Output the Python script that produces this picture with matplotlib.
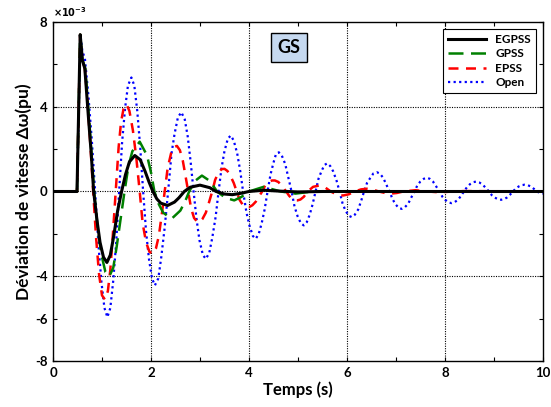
import matplotlib
matplotlib.use("Agg")
import matplotlib.pyplot as plt

# values in units of 1e-3 pu, time in s
t_egpss = [0, 0.49, 0.555, 0.60, 0.65, 0.72, 0.78, 0.83, 0.90, 0.96, 1.03, 1.10, 1.17, 1.24,
           1.32, 1.40, 1.48, 1.56, 1.67, 1.78, 1.88, 1.96, 2.04, 2.12, 2.20, 2.34, 2.48, 2.57,
           2.68, 2.80, 3.00, 3.20, 3.33, 3.50, 3.66, 3.85, 4.00, 4.30, 4.60, 5.00, 5.50, 10.0]
v_egpss = [0, 0, 7.4, 6.2, 5.8, 3.6, 1.8, 0, -1.4, -2.4, -3.1, -3.35, -3.0, -2.1,
           -0.9, 0.0, 0.8, 1.4, 1.7, 1.5, 0.95, 0.45, 0.0, -0.35, -0.55, -0.66, -0.5, -0.3,
           0.0, 0.2, 0.30, 0.18, 0.0, -0.12, -0.15, -0.08, 0.0, 0.06, 0.02, -0.02, 0, 0]

t_gpss = [0, 0.49, 0.555, 0.60, 0.66, 0.75, 0.84, 0.92, 0.99, 1.07, 1.15, 1.23, 1.30, 1.38,
          1.46, 1.54, 1.62, 1.77, 1.92, 2.00, 2.07, 2.16, 2.25, 2.42, 2.60, 2.70, 2.78, 2.90,
          3.04, 3.20, 3.35, 3.52, 3.70, 3.85, 4.00, 4.30, 4.65, 4.95, 5.30, 10.0]
v_gpss = [0, 0, 7.4, 6.2, 5.8, 3.0, 0, -1.9, -3.0, -3.8, -4.0, -3.6, -2.6, -1.3,
          0, 1.2, 1.9, 2.35, 1.7, 0.9, 0, -0.6, -1.0, -1.29, -0.9, -0.45, 0, 0.5,
          0.75, 0.5, 0, -0.3, -0.42, -0.25, 0, 0.22, 0, -0.1, 0, 0]

t_epss = [0, 0.49, 0.555, 0.60, 0.65, 0.70, 0.76, 0.82, 0.88, 0.94, 1.00, 1.06, 1.12, 1.17,
          1.22, 1.28, 1.34, 1.39, 1.44, 1.50, 1.56, 1.63, 1.70, 1.77, 1.83, 1.90, 1.97, 2.04,
          2.10, 2.16, 2.22, 2.28, 2.34, 2.41, 2.47, 2.53, 2.59, 2.65, 2.70, 2.76, 2.82, 2.88,
          2.94, 2.99, 3.05, 3.12, 3.18, 3.25, 3.31, 3.38, 3.44, 3.50, 3.56, 3.62, 3.69, 3.75,
          3.81, 3.88, 3.94, 4.00, 4.07, 4.14, 4.20, 4.27, 4.33, 4.40, 4.47, 4.53, 4.60, 4.66,
          4.71, 4.76, 4.82, 4.88, 4.94, 4.99, 5.05, 5.12, 5.20, 5.31, 5.43, 5.55, 5.67, 5.80,
          5.92, 6.04, 6.16, 6.29, 6.41, 6.53, 6.65, 6.78, 6.90, 7.02, 7.15, 7.40, 7.65, 7.90,
          8.15, 8.40, 10.0]
v_epss = [0, 0, 7.4, 6.2, 5.8, 4.4, 2.3, 0, -2.2, -3.9, -4.9, -5.1, -4.7, -3.7,
          -2.1, 0, 2.1, 3.3, 3.9, 4.12, 3.8, 2.9, 1.6, 0, -1.5, -2.4, -2.85, -2.94,
          -2.7, -2.1, -1.1, 0, 1.1, 1.8, 2.1, 2.15, 1.95, 1.45, 0.8, 0, -0.8, -1.25,
          -1.42, -1.45, -1.3, -1.0, -0.55, 0, 0.55, 0.9, 1.05, 1.07, 0.97, 0.75, 0.4, 0,
          -0.4, -0.65, -0.73, -0.74, -0.65, -0.48, -0.25, 0, 0.28, 0.45, 0.52, 0.52, 0.45, 0.3,
          0.15, 0, -0.2, -0.35, -0.42, -0.42, -0.38, -0.25, 0, 0.22, 0.28, 0.2, 0, -0.15,
          -0.19, -0.13, 0, 0.1, 0.13, 0.09, 0, -0.07, -0.1, -0.07, 0, 0.06, 0, -0.04,
          0, 0.02, 0]

t_open = [0, 0.49, 0.56, 0.60, 0.65, 0.72, 0.79, 0.86, 0.93, 0.99, 1.05, 1.11, 1.17, 1.23,
          1.29, 1.35, 1.41, 1.47, 1.53, 1.60, 1.66, 1.72, 1.78, 1.84, 1.90, 1.96, 2.02, 2.08,
          2.15, 2.21, 2.28, 2.35, 2.42, 2.48, 2.55, 2.62, 2.69, 2.75, 2.81, 2.87, 2.93, 2.99,
          3.06, 3.12, 3.19, 3.25, 3.32, 3.38, 3.44, 3.50, 3.57, 3.63, 3.69, 3.76, 3.82, 3.88,
          3.95, 4.01, 4.08, 4.14, 4.20, 4.26, 4.32, 4.38, 4.44, 4.50, 4.55, 4.61, 4.67, 4.74,
          4.80, 4.87, 4.93, 4.99, 5.06, 5.12, 5.18, 5.24, 5.30, 5.36, 5.42, 5.48, 5.54, 5.60,
          5.66, 5.72, 5.79, 5.85, 5.91, 5.97, 6.04, 6.10, 6.16, 6.23, 6.29, 6.35, 6.41, 6.48,
          6.54, 6.61, 6.67, 6.74, 6.80, 6.87, 6.93, 6.99, 7.06, 7.12, 7.18, 7.25, 7.31, 7.38,
          7.44, 7.50, 7.57, 7.63, 7.69, 7.76, 7.82, 7.89, 7.95, 8.01, 8.08, 8.14, 8.20, 8.27,
          8.33, 8.39, 8.45, 8.51, 8.58, 8.64, 8.70, 8.77, 8.83, 8.90, 8.96, 9.02, 9.09, 9.15,
          9.21, 9.27, 9.33, 9.39, 9.45, 9.51, 9.57, 9.63, 9.69, 9.76, 9.82, 9.88, 9.94, 10.0]
v_open = [0, 0, 7.4, 6.6, 6.3, 4.6, 2.5, 0, -2.6, -4.3, -5.5, -5.93, -5.5, -4.2,
          -2.4, 0, 2.3, 3.9, 5.0, 5.38, 5.0, 3.8, 2.1, 0, -1.9, -3.2, -4.1, -4.43,
          -4.1, -3.1, -1.7, 0, 1.8, 2.7, 3.5, 3.74, 3.4, 2.6, 1.4, 0, -1.3, -2.3,
          -3.0, -3.18, -2.9, -2.2, -1.2, 0, 1.1, 1.9, 2.5, 2.64, 2.4, 1.8, 1.0, 0,
          -1.0, -1.6, -2.1, -2.23, -2.0, -1.5, -0.85, 0, 0.8, 1.35, 1.75, 1.85, 1.7, 1.3,
          0.7, 0, -0.7, -1.15, -1.5, -1.6, -1.45, -1.1, -0.6, 0, 0.6, 0.95, 1.25, 1.33,
          1.2, 0.95, 0.5, 0, -0.55, -0.9, -1.15, -1.21, -1.1, -0.85, -0.45, 0, 0.4, 0.65,
          0.85, 0.91, 0.85, 0.65, 0.35, 0, -0.35, -0.6, -0.78, -0.82, -0.75, -0.58, -0.3, 0,
          0.3, 0.47, 0.6, 0.65, 0.6, 0.46, 0.25, 0, -0.25, -0.4, -0.52, -0.55, -0.5, -0.39,
          -0.2, 0, 0.2, 0.34, 0.44, 0.47, 0.43, 0.33, 0.18, 0, -0.18, -0.29, -0.37, -0.39,
          -0.36, -0.28, -0.15, 0, 0.15, 0.24, 0.30, 0.32, 0.30, 0.23, 0.12, 0, -0.07, -0.1]

y_ticks = [-8, -6, -4, -2, 0, 2, 4, 6, 8]
y_labels = ["-8", "-6", "-4", "", "0", "", "4", "", "8"]
x_ticks = [0, 1, 2, 3, 4, 5, 6, 7, 8, 9, 10]
x_labels = ["0", "", "2", "", "4", "", "6", "", "8", "", "10"]

plt.rcParams["font.family"] = ["Lato", "DejaVu Sans"]
plt.rcParams["font.weight"] = "bold"

fig = plt.figure(figsize=(5.51, 4.07), dpi=100)
ax = fig.add_axes([0.0962, 0.113, 0.889, 0.833])

# grid lines only at labelled positions
for gx in [2, 4, 6, 8]:
    ax.axvline(gx, color="black", lw=0.8, ls=(0, (1, 1.2)), zorder=1)
for gy in [-4, 0, 4]:
    ax.axhline(gy, color="black", lw=0.8, ls=(0, (1, 1.2)), zorder=1)

l4, = ax.plot(t_open, v_open, color="#0000ff", lw=1.6, ls=(0, (1, 1.5)), label="Open", zorder=2)
l3, = ax.plot(t_epss, v_epss, color="#ff0000", lw=1.8, ls=(0, (4, 3)), label="EPSS", zorder=3)
l2, = ax.plot(t_gpss, v_gpss, color="#008000", lw=1.8, ls=(0, (6, 3)), label="GPSS", zorder=4)
l1, = ax.plot(t_egpss, v_egpss, color="black", lw=2.2, label="EGPSS", zorder=5)

ax.set_xlim(0, 10)
ax.set_ylim(-8, 8)
ax.set_xticks(x_ticks)
ax.set_xticklabels(x_labels)
ax.set_yticks(y_ticks)
ax.set_yticklabels(y_labels)
ax.tick_params(direction="in", top=True, right=True, labelsize=9.5, length=3, pad=4)
for lab in ax.get_xticklabels() + ax.get_yticklabels():
    lab.set_fontweight("bold")
for s in ax.spines.values():
    s.set_linewidth(1.0)

ax.set_xlabel("Temps (s)", fontsize=12, fontweight="bold", labelpad=2)
ax.set_ylabel("Déviation de vitesse Δω(pu)", fontsize=12.5, fontweight="bold", labelpad=2)
ax.text(0.0, 1.008, r"$\times10^{-3}$", transform=ax.transAxes, fontsize=7, ha="left", va="bottom")

ax.text(4.82, 6.8, "GS", fontsize=13, fontweight="bold", ha="center", va="center",
        bbox=dict(boxstyle="square,pad=0.35", facecolor="#c6d9f0", edgecolor="black", lw=1.0))

leg = ax.legend(handles=[l1, l2, l3, l4], loc="upper right", fontsize=8.5,
                frameon=True, fancybox=False, edgecolor="black", framealpha=1,
                handlelength=3.2, borderaxespad=0.6, labelspacing=0.3)
leg.get_frame().set_linewidth(0.8)
for txt in leg.get_texts():
    txt.set_fontweight("bold")

fig.savefig("out.png", dpi=100)
